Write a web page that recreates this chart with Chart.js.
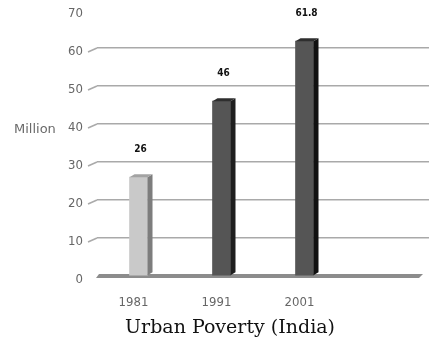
<!DOCTYPE html>
<html>
<head>
<meta charset="utf-8">
<script src="https://cdn.jsdelivr.net/npm/chart.js@4"></script>
<style>
html,body{margin:0;padding:0;background:#fff;}
#wrap{width:429px;height:345px;position:relative;}
</style>
</head>
<body>
<div id="wrap"><canvas id="c"></canvas></div>
<script>
const categories = ['1981', '1991', '2001', ''];
const poverty = [26, 46, 61.8, null];
const yTicks = [0, 10, 20, 30, 40, 50, 60, 70];
const yAxisLabel = 'Million';
const chartTitle = 'Urban Poverty (India)';

const frontColors = ['#c9c9c9', '#555555', '#555555'];
const sideColors = ['#7d7d7d', '#1e1e1e', '#111111'];
const topColors = ['#a3a3a3', '#2e2e2e', '#2e2e2e'];
const DX = 5, DY = 3;

const threeD = {
  id: 'threeD',
  beforeDatasetsDraw(chart) {
    const ctx = chart.ctx;
    const y0 = chart.scales.y.getPixelForValue(0);
    const a = chart.chartArea;
    ctx.save();
    ctx.strokeStyle = '#aaaaaa';
    ctx.lineWidth = 1.5;
    yTicks.forEach(v => {
      if (v === 0 || v === yTicks[yTicks.length - 1]) return;
      const py = chart.scales.y.getPixelForValue(v);
      ctx.beginPath();
      ctx.moveTo(a.left - 9, py + 4);
      ctx.lineTo(a.left, py);
      ctx.stroke();
    });
    ctx.fillStyle = '#8c8c8c';
    ctx.beginPath();
    ctx.moveTo(a.left - 1, y0 + 2);
    ctx.lineTo(a.left + 2, y0 - 2);
    ctx.lineTo(a.right - 6, y0 - 2);
    ctx.lineTo(a.right - 10, y0 + 2);
    ctx.closePath();
    ctx.fill();
    ctx.restore();
  },
  afterDatasetsDraw(chart) {
    const ctx = chart.ctx;
    const meta = chart.getDatasetMeta(0);
    ctx.save();
    meta.data.forEach((el, i) => {
      if (poverty[i] == null) return;
      const p = el.getProps(['x', 'y', 'base', 'width'], true);
      const l = p.x - p.width / 2, r = p.x + p.width / 2;
      ctx.fillStyle = sideColors[i];
      ctx.beginPath();
      ctx.moveTo(r, p.y);
      ctx.lineTo(r + DX, p.y - DY);
      ctx.lineTo(r + DX, p.base - DY);
      ctx.lineTo(r, p.base);
      ctx.closePath();
      ctx.fill();
      ctx.fillStyle = topColors[i];
      ctx.beginPath();
      ctx.moveTo(l, p.y);
      ctx.lineTo(l + DX, p.y - DY);
      ctx.lineTo(r + DX, p.y - DY);
      ctx.lineTo(r, p.y);
      ctx.closePath();
      ctx.fill();
      ctx.fillStyle = '#111';
      ctx.font = 'bold 10px "DejaVu Sans Condensed"';
      ctx.textAlign = 'center';
      ctx.textBaseline = 'middle';
      ctx.fillText(String(poverty[i]), p.x + 2, p.y - 28);
    });
    ctx.restore();
  },
  afterDraw(chart) {
    const ctx = chart.ctx;
    ctx.save();
    ctx.fillStyle = '#6a6a6a';
    ctx.font = '13px "DejaVu Sans"';
    ctx.textAlign = 'left';
    ctx.textBaseline = 'middle';
    ctx.fillText(yAxisLabel, 14, chart.scales.y.getPixelForValue(40) + 6);
    ctx.fillStyle = '#111';
    ctx.font = '19px "DejaVu Serif"';
    ctx.textAlign = 'center';
    ctx.fillText(chartTitle, 230, 328);
    ctx.restore();
  }
};

new Chart(document.getElementById('c'), {
  type: 'bar',
  data: {
    labels: categories,
    datasets: [{
      data: poverty,
      backgroundColor: frontColors,
      barThickness: 18,
      borderWidth: 0
    }]
  },
  options: {
    responsive: true,
    maintainAspectRatio: false,
    animation: false,
    layout: { padding: { top: 10, right: 0, left: 0, bottom: 0 } },
    plugins: { legend: { display: false }, tooltip: { enabled: false }, title: { display: false } },
    scales: {
      x: {
        grid: { display: false },
        border: { display: false },
        ticks: {
          color: '#666',
          font: { family: 'DejaVu Sans Condensed', size: 13 },
          padding: 11,
          labelOffset: -5
        },
        afterFit(s) { s.height = 69; s.paddingLeft = 0; s.paddingRight = 0; }
      },
      y: {
        min: 0,
        max: 70,
        afterBuildTicks(s) { s.ticks = yTicks.map(v => ({ value: v })); },
        grid: {
          drawTicks: false,
          lineWidth: 1.6,
          color: c => (c.tick && (c.tick.value === 0 || c.tick.value === 70)) ? 'rgba(0,0,0,0)' : '#a9a9a9'
        },
        border: { display: false },
        ticks: {
          color: '#666',
          font: { family: 'DejaVu Sans Condensed', size: 13 },
          padding: 14,
          labelOffset: 4
        },
        afterFit(s) { s.width = 97; s.paddingTop = 0; s.paddingBottom = 0; }
      }
    }
  },
  plugins: [threeD]
});
</script>
</body>
</html>
